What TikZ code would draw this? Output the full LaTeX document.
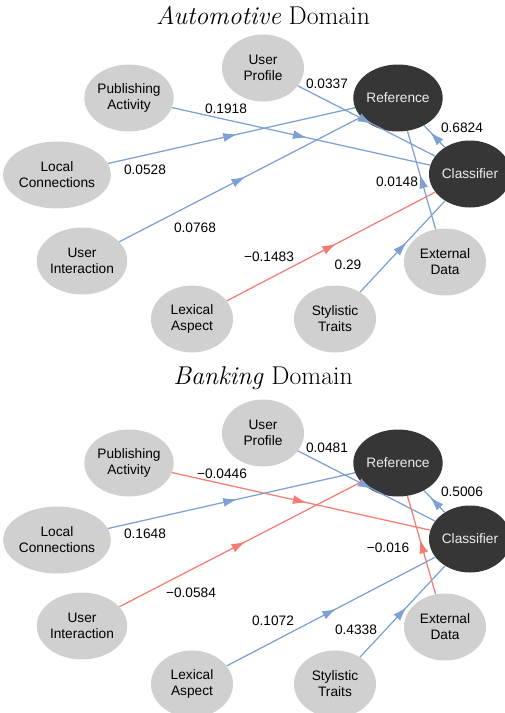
\documentclass[tikz,border=0pt]{standalone}
\usepackage{fontspec}
\newfontfamily\arialf{Liberation Sans}
\usetikzlibrary{shapes.geometric,arrows.meta,decorations.markings}
\definecolor{nodegray}{RGB}{208,208,208}
\definecolor{nodedark}{RGB}{54,54,54}
\definecolor{edgeblue}{RGB}{126,160,210}
\definecolor{edgered}{RGB}{244,124,114}
\tikzset{
  feat/.style={ellipse, fill=nodegray, minimum width=82pt, minimum height=67pt, inner sep=0pt, align=center, font=\arialf\fontsize{13.7}{16}\selectfont, text=black},
  core/.style={feat, fill=nodedark, text=white!93!black},
  wlabel/.style={font=\arialf\fontsize{13.7}{16}\selectfont, inner sep=0pt, text=black},
  titlestyle/.style={font=\fontsize{25.7}{28}\selectfont, anchor=base, inner sep=0pt},
  edgestyle/.style={line width=1.25pt, postaction={decorate}, decoration={markings, mark=at position 0.5 with {\pgftransformxshift{6pt}\arrow{Latex[length=14pt,width=9pt]}}}},
  posedge/.style={edgestyle, color=edgeblue},
  negedge/.style={edgestyle, color=edgered},
}
\begin{document}
\begin{tikzpicture}[x=1pt,y=-1pt]
\useasboundingbox (0,0) rectangle (505,713);
\clip (0,0) rectangle (505,713);
% ---------- Automotive ----------
\node[titlestyle] (ta) at (263,24) {\textit{Automotive} Domain};
\node[feat] (aUP) at (263,68) {User\\Profile};
\node[feat] (aPA) at (129,98) {Publishing\\Activity};
\node[feat] (aLC) at (57,175) {Local\\Connections};
\node[feat] (aUI) at (82,261) {User\\Interaction};
\node[feat] (aLA) at (192,319) {Lexical\\Aspect};
\node[feat] (aST) at (335,319) {Stylistic\\Traits};
\node[feat] (aED) at (445,262) {External\\Data};
\node[core] (aRF) at (398,98) {Reference};
\node[core] (aCL) at (470,174) {Classifier};
\draw[posedge] (aUP) -- (aCL);
\draw[posedge] (aPA) -- (aCL);
\draw[posedge] (aLC) -- (aRF);
\draw[posedge] (aUI) -- (aRF);
\draw[negedge] (aLA) -- (aCL);
\draw[posedge] (aST) -- (aCL);
\draw[posedge] (aED) -- (aRF);
\draw[posedge] (aCL) -- (aRF);
\node[wlabel] (aw1) at (327,84) {0.0337};
\node[wlabel] (aw2) at (226,109) {0.1918};
\node[wlabel] (aw3) at (145,170) {0.0528};
\node[wlabel] (aw4) at (195,228) {0.0768};
\node[wlabel] (aw5) at (269,257) {−0.1483};
\node[wlabel] (aw6) at (348,265) {0.29};
\node[wlabel] (aw7) at (397,182) {0.0148};
\node[wlabel] (aw8) at (462,128) {0.6824};
% ---------- Banking ----------
\node[titlestyle] (tb) at (263,384) {\textit{Banking} Domain};
\begin{scope}[yshift=-365pt]
\node[feat] (bUP) at (263,68) {User\\Profile};
\node[feat] (bPA) at (129,98) {Publishing\\Activity};
\node[feat] (bLC) at (57,175) {Local\\Connections};
\node[feat] (bUI) at (82,261) {User\\Interaction};
\node[feat] (bLA) at (192,319) {Lexical\\Aspect};
\node[feat] (bST) at (335,319) {Stylistic\\Traits};
\node[feat] (bED) at (445,262) {External\\Data};
\node[core] (bRF) at (398,98) {Reference};
\node[core] (bCL) at (470,174) {Classifier};
\draw[posedge] (bUP) -- (bCL);
\draw[negedge] (bPA) -- (bCL);
\draw[posedge] (bLC) -- (bRF);
\draw[negedge] (bUI) -- (bRF);
\draw[posedge] (bLA) -- (bCL);
\draw[posedge] (bST) -- (bCL);
\draw[negedge] (bED) -- (bRF);
\draw[posedge] (bCL) -- (bRF);
\node[wlabel] (bw1) at (327,83) {0.0481};
\node[wlabel] (bw2) at (222,109) {−0.0446};
\node[wlabel] (bw3) at (145,169) {0.1648};
\node[wlabel] (bw4) at (191,228) {−0.0584};
\node[wlabel] (bw5) at (273,256) {0.1072};
\node[wlabel] (bw6) at (356,265) {0.4338};
\node[wlabel] (bw7) at (388,183) {−0.016};
\node[wlabel] (bw8) at (462,127) {0.5006};
\end{scope}
\end{tikzpicture}
\end{document}
